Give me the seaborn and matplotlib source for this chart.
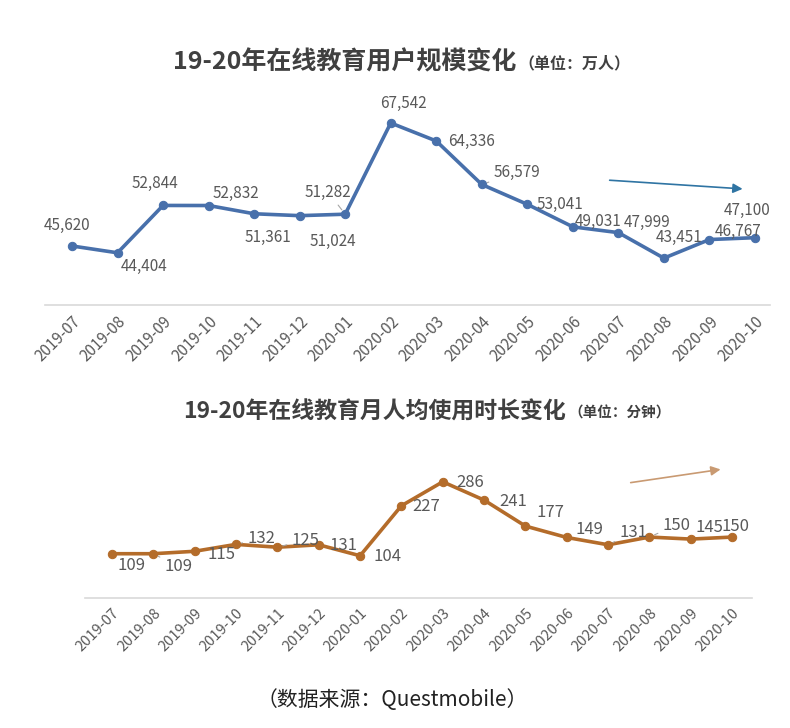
import matplotlib
matplotlib.use("Agg")
import matplotlib.pyplot as plt
import seaborn as sns
import pandas as pd

# ---------------- data ----------------
months = ["2019-07", "2019-08", "2019-09", "2019-10", "2019-11", "2019-12",
          "2020-01", "2020-02", "2020-03", "2020-04", "2020-05", "2020-06",
          "2020-07", "2020-08", "2020-09", "2020-10"]
users = [45620, 44404, 52844, 52832, 51361, 51024, 51282, 67542,
         64336, 56579, 53041, 49031, 47999, 43451, 46767, 47100]
minutes = [109, 109, 115, 132, 125, 131, 104, 227,
           286, 241, 177, 149, 131, 150, 145, 150]

title_top = "19-20年在线教育用户规模变化"
unit_top = "（单位：万人）"
title_bot = "19-20年在线教育月人均使用时长变化"
unit_bot = "（单位：分钟）"
source_text = "（数据来源：Questmobile）"

# label offsets in pixels (dx right, dy down) – styling only
off_top = [(-5, -21), (27, 14), (-8, -22), (27, -12), (14, 24), (33, 26),
           (-17, -22), (13, -20), (35, 0), (35, -12), (33, 0), (25, -5),
           (29, -10), (15, -21), (29, -8), (-8, -27)]
off_bot = [(20, 12), (25, 13), (27, 3), (25, -6), (28, -7), (25, 1),
           (27, 1), (25, 1), (27, 1), (29, 1), (25, -14), (23, -8),
           (25, -12), (27, -12), (19, -12), (3, -11)]
lead_top = {6, 9}
lead_bot = {1, 3, 4, 12, 13}

sns.set_theme(style="white")
plt.rcParams["font.family"] = ["Noto Sans CJK SC", "DejaVu Sans"]

W, H = 790, 728
fig = plt.figure(figsize=(W / 100, H / 100), dpi=100)
fig.patch.set_facecolor("white")

blue = "#4870ab"
brown = "#b46c2a"
label_color = "#595959"

df_top = pd.DataFrame({"month": months, "value": users})
df_bot = pd.DataFrame({"month": months, "value": minutes})


def panel(rect, df, color, xlim, ylim, offsets, fmt, tick_fs, lab_fs, leads):
    ax = fig.add_axes(rect)
    sns.lineplot(data=df, x="month", y="value", ax=ax, color=color,
                 linewidth=2.6, marker="o", markersize=6,
                 markeredgecolor=color, markerfacecolor=color, sort=False)
    ax.set_xlim(*xlim)
    ax.set_ylim(*ylim)
    ax.set_xlabel("")
    ax.set_ylabel("")
    ax.set_yticks([])
    for s in ["top", "left", "right"]:
        ax.spines[s].set_visible(False)
    ax.spines["bottom"].set_color("#d9d9d9")
    ax.spines["bottom"].set_linewidth(1.2)
    ax.set_xticks(range(len(df)))
    ax.set_xticklabels(df["month"], rotation=45, ha="right",
                       rotation_mode="anchor", fontsize=tick_fs,
                       color=label_color)
    ax.tick_params(axis="x", length=0, pad=6)
    for i, (v, (dx, dy)) in enumerate(zip(df["value"], offsets)):
        props = None
        if i in leads:
            props = dict(arrowstyle="-", color="#a6a6a6", lw=0.8,
                         shrinkA=1, shrinkB=4)
        ax.annotate(fmt(v), xy=(i, v), xytext=(dx, -dy),
                    textcoords="offset pixels", ha="center", va="center",
                    fontsize=lab_fs, color=label_color, arrowprops=props)
    ax.patch.set_alpha(0)
    return ax


ax1 = panel([45 / W, 1 - 305 / H, 725 / W, 210 / H], df_top, blue,
            (-0.593, 15.33), (35100, 72530), off_top, lambda v: f"{v:,}",
            11, 11, lead_top)
ax2 = panel([85 / W, 1 - 598 / H, 667 / W, 143 / H], df_bot, brown,
            (-0.653, 15.48), (0, 352), off_bot, lambda v: f"{v}",
            10.5, 12, lead_bot)

# trend arrows (axes fraction)
ax1.annotate("", xy=(0.966, 0.552), xytext=(0.775, 0.595),
             xycoords="axes fraction", textcoords="axes fraction",
             arrowprops=dict(arrowstyle="-|>", color="#2f74a3", lw=1.2,
                             mutation_scale=14))
ax2.annotate("", xy=(0.957, 0.902), xytext=(0.814, 0.804),
             xycoords="axes fraction", textcoords="axes fraction",
             arrowprops=dict(arrowstyle="-|>", color="#c99a72", lw=1.2,
                             mutation_scale=14))

# titles
fig.text(516 / W, 1 - 62 / H, title_top, ha="right", va="center",
         fontsize=18, fontweight="bold", color="#404040")
fig.text(518 / W, 1 - 63 / H, unit_top, ha="left", va="center",
         fontsize=11.5, fontweight="bold", color="#404040")
fig.text(566 / W, 1 - 412 / H, title_bot, ha="right", va="center",
         fontsize=16.5, fontweight="bold", color="#404040")
fig.text(568 / W, 1 - 413 / H, unit_bot, ha="left", va="center",
         fontsize=10.5, fontweight="bold", color="#404040")

fig.text(392 / W, 1 - 700 / H, source_text, ha="center", va="center",
         fontsize=15, color="#222222")

fig.savefig("out.png", dpi=100, facecolor="white")
